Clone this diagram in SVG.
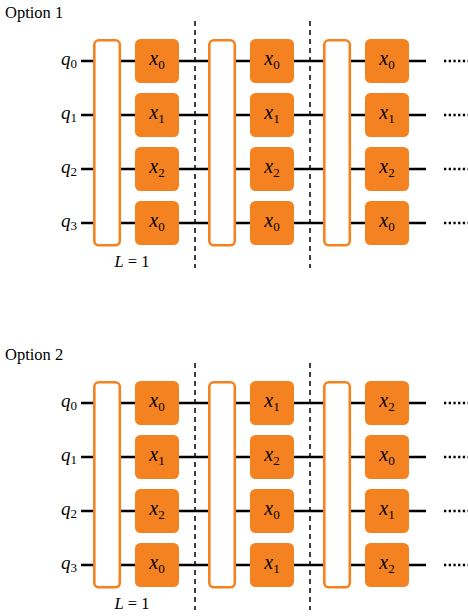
<svg xmlns="http://www.w3.org/2000/svg" width="468" height="616" viewBox="0 0 468 616">
<style>
text{font-family:'Liberation Serif','Times New Roman',serif;fill:#000}
.it{font-style:italic}
.title{font-size:16.5px}
.q{font-size:19px;text-anchor:end}
.g{font-size:20px;text-anchor:middle}
.sub{font-size:13px;font-style:normal}
.wire{stroke:#000;stroke-width:2.3;fill:none}
.dots{stroke:#000;stroke-width:2.3;stroke-dasharray:2.3 2.4;fill:none}
.dash{stroke:#000;stroke-width:1.5;stroke-dasharray:5 4;fill:none}
.tall{fill:#fff;stroke:#F58220;stroke-width:2.6}
.box{fill:#F58220}
</style>
<defs>
<rect id="tallR" class="tall" x="0" y="0" width="25.5" height="205" rx="4.5"/>
<rect id="boxR" class="box" x="0" y="0" width="44" height="44" rx="5.5"/>
</defs>

<!-- Option 1 -->
<text class="title" x="5" y="18">Option 1</text>
<g id="labels1">
<text class="q" x="77" y="65"><tspan class="it">q</tspan><tspan class="sub" dy="3">0</tspan></text>
<text class="q" x="77" y="119"><tspan class="it">q</tspan><tspan class="sub" dy="3">1</tspan></text>
<text class="q" x="77" y="173"><tspan class="it">q</tspan><tspan class="sub" dy="3">2</tspan></text>
<text class="q" x="77" y="227"><tspan class="it">q</tspan><tspan class="sub" dy="3">3</tspan></text>
</g>
<g id="connectors1">
<line class="wire" x1="81" y1="61" x2="426" y2="61"/>
<line class="wire" x1="81" y1="115" x2="426" y2="115"/>
<line class="wire" x1="81" y1="169" x2="426" y2="169"/>
<line class="wire" x1="81" y1="223" x2="426" y2="223"/>
<line class="dots" x1="444" y1="61" x2="468" y2="61"/>
<line class="dots" x1="444" y1="115" x2="468" y2="115"/>
<line class="dots" x1="444" y1="169" x2="468" y2="169"/>
<line class="dots" x1="444" y1="223" x2="468" y2="223"/>
<line class="dash" x1="195" y1="21" x2="195" y2="268"/>
<line class="dash" x1="310" y1="21" x2="310" y2="268"/>
</g>
<g id="o1-layer1"><use href="#tallR" x="94.3" y="40.3"/></g>
<g id="o1-layer2"><use href="#tallR" x="209.3" y="40.3"/></g>
<g id="o1-layer3"><use href="#tallR" x="324.3" y="40.3"/></g>
<g id="o1-c1">
<use href="#boxR" x="135" y="39"/><text class="g" x="157" y="65"><tspan class="it">x</tspan><tspan class="sub" dy="4">0</tspan></text>
<use href="#boxR" x="135" y="93"/><text class="g" x="157" y="119"><tspan class="it">x</tspan><tspan class="sub" dy="4">1</tspan></text>
<use href="#boxR" x="135" y="147"/><text class="g" x="157" y="173"><tspan class="it">x</tspan><tspan class="sub" dy="4">2</tspan></text>
<use href="#boxR" x="135" y="201"/><text class="g" x="157" y="227"><tspan class="it">x</tspan><tspan class="sub" dy="4">0</tspan></text>
</g>
<g id="o1-c2">
<use href="#boxR" x="250" y="39"/><text class="g" x="272" y="65"><tspan class="it">x</tspan><tspan class="sub" dy="4">0</tspan></text>
<use href="#boxR" x="250" y="93"/><text class="g" x="272" y="119"><tspan class="it">x</tspan><tspan class="sub" dy="4">1</tspan></text>
<use href="#boxR" x="250" y="147"/><text class="g" x="272" y="173"><tspan class="it">x</tspan><tspan class="sub" dy="4">2</tspan></text>
<use href="#boxR" x="250" y="201"/><text class="g" x="272" y="227"><tspan class="it">x</tspan><tspan class="sub" dy="4">0</tspan></text>
</g>
<g id="o1-c3">
<use href="#boxR" x="365" y="39"/><text class="g" x="387" y="65"><tspan class="it">x</tspan><tspan class="sub" dy="4">0</tspan></text>
<use href="#boxR" x="365" y="93"/><text class="g" x="387" y="119"><tspan class="it">x</tspan><tspan class="sub" dy="4">1</tspan></text>
<use href="#boxR" x="365" y="147"/><text class="g" x="387" y="173"><tspan class="it">x</tspan><tspan class="sub" dy="4">2</tspan></text>
<use href="#boxR" x="365" y="201"/><text class="g" x="387" y="227"><tspan class="it">x</tspan><tspan class="sub" dy="4">0</tspan></text>
</g>
<text class="title" x="132" y="267" text-anchor="middle"><tspan class="it">L</tspan> = 1</text>

<!-- Option 2 -->
<text class="title" x="5" y="360">Option 2</text>
<g id="labels2">
<text class="q" x="77" y="407"><tspan class="it">q</tspan><tspan class="sub" dy="3">0</tspan></text>
<text class="q" x="77" y="461"><tspan class="it">q</tspan><tspan class="sub" dy="3">1</tspan></text>
<text class="q" x="77" y="515"><tspan class="it">q</tspan><tspan class="sub" dy="3">2</tspan></text>
<text class="q" x="77" y="569"><tspan class="it">q</tspan><tspan class="sub" dy="3">3</tspan></text>
</g>
<g id="connectors2">
<line class="wire" x1="81" y1="403" x2="426" y2="403"/>
<line class="wire" x1="81" y1="457" x2="426" y2="457"/>
<line class="wire" x1="81" y1="511" x2="426" y2="511"/>
<line class="wire" x1="81" y1="565" x2="426" y2="565"/>
<line class="dots" x1="444" y1="403" x2="468" y2="403"/>
<line class="dots" x1="444" y1="457" x2="468" y2="457"/>
<line class="dots" x1="444" y1="511" x2="468" y2="511"/>
<line class="dots" x1="444" y1="565" x2="468" y2="565"/>
<line class="dash" x1="195" y1="363" x2="195" y2="610"/>
<line class="dash" x1="310" y1="363" x2="310" y2="610"/>
</g>
<g id="o2-layer1"><use href="#tallR" x="94.3" y="382.3"/></g>
<g id="o2-layer2"><use href="#tallR" x="209.3" y="382.3"/></g>
<g id="o2-layer3"><use href="#tallR" x="324.3" y="382.3"/></g>
<g id="o2-c1">
<use href="#boxR" x="135" y="381"/><text class="g" x="157" y="407"><tspan class="it">x</tspan><tspan class="sub" dy="4">0</tspan></text>
<use href="#boxR" x="135" y="435"/><text class="g" x="157" y="461"><tspan class="it">x</tspan><tspan class="sub" dy="4">1</tspan></text>
<use href="#boxR" x="135" y="489"/><text class="g" x="157" y="515"><tspan class="it">x</tspan><tspan class="sub" dy="4">2</tspan></text>
<use href="#boxR" x="135" y="543"/><text class="g" x="157" y="569"><tspan class="it">x</tspan><tspan class="sub" dy="4">0</tspan></text>
</g>
<g id="o2-c2">
<use href="#boxR" x="250" y="381"/><text class="g" x="272" y="407"><tspan class="it">x</tspan><tspan class="sub" dy="4">1</tspan></text>
<use href="#boxR" x="250" y="435"/><text class="g" x="272" y="461"><tspan class="it">x</tspan><tspan class="sub" dy="4">2</tspan></text>
<use href="#boxR" x="250" y="489"/><text class="g" x="272" y="515"><tspan class="it">x</tspan><tspan class="sub" dy="4">0</tspan></text>
<use href="#boxR" x="250" y="543"/><text class="g" x="272" y="569"><tspan class="it">x</tspan><tspan class="sub" dy="4">1</tspan></text>
</g>
<g id="o2-c3">
<use href="#boxR" x="365" y="381"/><text class="g" x="387" y="407"><tspan class="it">x</tspan><tspan class="sub" dy="4">2</tspan></text>
<use href="#boxR" x="365" y="435"/><text class="g" x="387" y="461"><tspan class="it">x</tspan><tspan class="sub" dy="4">0</tspan></text>
<use href="#boxR" x="365" y="489"/><text class="g" x="387" y="515"><tspan class="it">x</tspan><tspan class="sub" dy="4">1</tspan></text>
<use href="#boxR" x="365" y="543"/><text class="g" x="387" y="569"><tspan class="it">x</tspan><tspan class="sub" dy="4">2</tspan></text>
</g>
<text class="title" x="132" y="609" text-anchor="middle"><tspan class="it">L</tspan> = 1</text>
</svg>
